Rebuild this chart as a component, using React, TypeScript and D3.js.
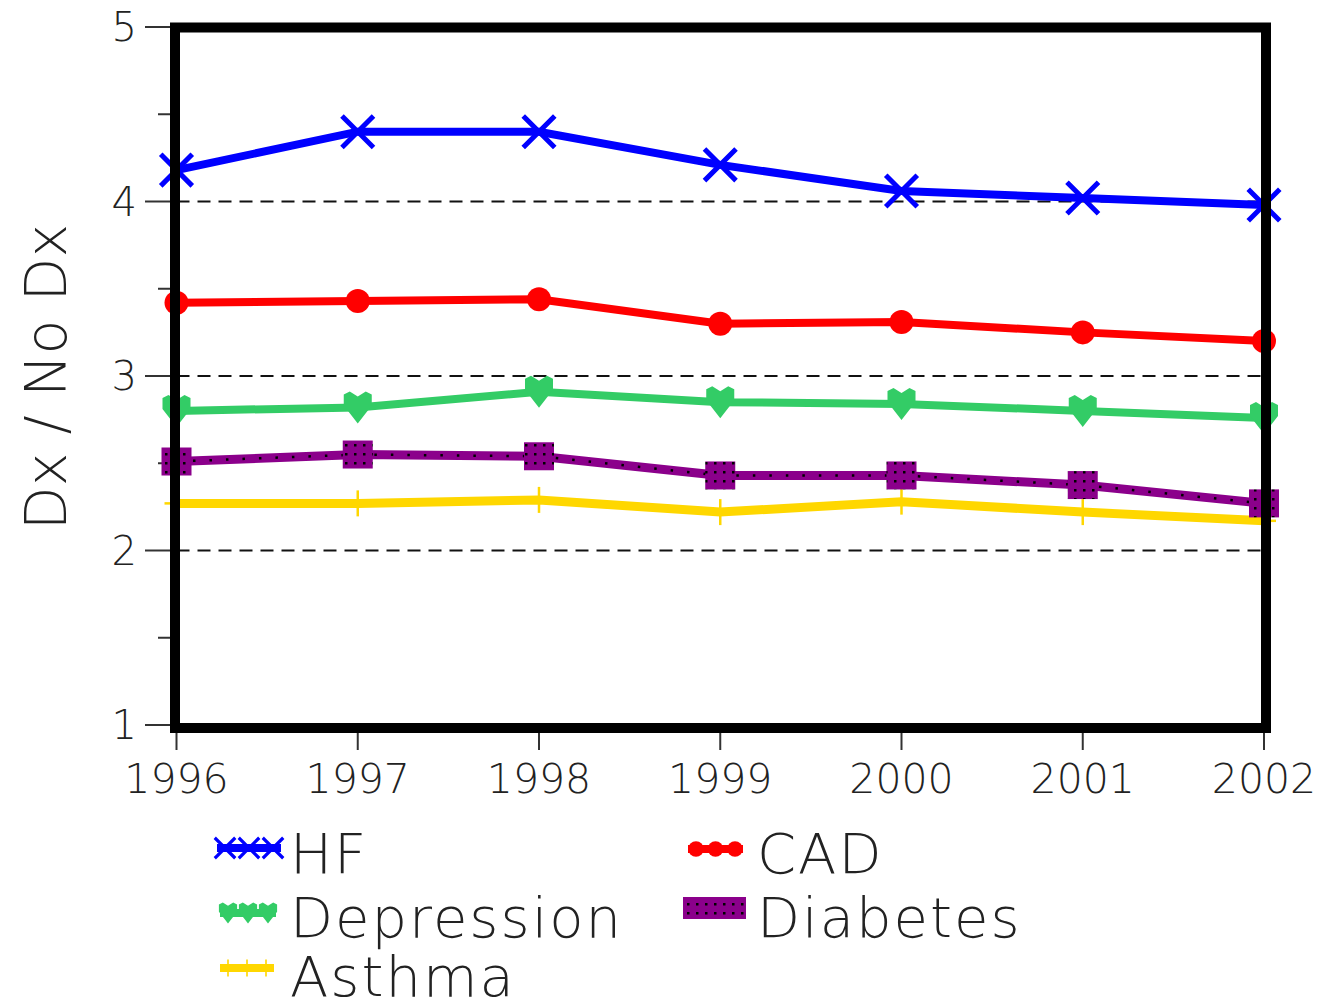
import React from "react";
import * as d3 from "d3";

const years = [1996, 1997, 1998, 1999, 2000, 2001, 2002];
const hf = [4.18, 4.4, 4.4, 4.21, 4.06, 4.02, 3.98];
const cad = [3.42, 3.43, 3.44, 3.3, 3.31, 3.25, 3.2];
const depression = [2.8, 2.82, 2.91, 2.85, 2.84, 2.8, 2.76];
const diabetes = [2.51, 2.55, 2.54, 2.43, 2.43, 2.375, 2.27];
const asthma = [2.27, 2.27, 2.29, 2.22, 2.28, 2.22, 2.17];
const yTicks = [1, 2, 3, 4, 5];
const yMinorTicks = [1.5, 2.5, 3.5, 4.5];
const gridValues = [2, 3, 4];

const FONT = "'DejaVu Sans', 'Liberation Sans', sans-serif";

const x = d3.scaleLinear().domain([1996, 2002]).range([176.5, 1264]);
const y = d3.scaleLinear().domain([1, 5]).range([725, 27]);

type Marker = "x" | "circle" | "heart" | "square" | "plus";

function MarkerShape({ kind, color, cx, cy }: { kind: Marker; color: string; cx: number; cy: number }) {
  if (kind === "x") {
    const s = 14;
    return (
      <g transform={`translate(${cx},${cy})`} stroke={color} strokeWidth={5} strokeLinecap="square">
        <line x1={-s} y1={-s} x2={s} y2={s} />
        <line x1={-s} y1={s} x2={s} y2={-s} />
      </g>
    );
  }
  if (kind === "circle") return <circle cx={cx} cy={cy} r={12} fill={color} />;
  if (kind === "heart")
    return (
      <path
        transform={`translate(${cx},${cy})`}
        d="M-14,-13 L-8,-16 L0,-11 L8,-16 L14,-13 L14,-2 L0,16 L-14,-2 Z"
        fill={color}
      />
    );
  if (kind === "square")
    return (
      <rect x={cx - 15} y={cy - 14} width={30} height={28} fill={color} stroke="none" />
    );
  return (
    <g transform={`translate(${cx},${cy})`} stroke={color} strokeWidth={2.5}>
      <line x1={0} y1={-13} x2={0} y2={13} />
      <line x1={-12} y1={0} x2={12} y2={0} />
    </g>
  );
}

const series: { name: string; values: number[]; color: string; marker: Marker; width: number }[] = [
  { name: "HF", values: hf, color: "#0000ff", marker: "x", width: 8 },
  { name: "CAD", values: cad, color: "#ff0000", marker: "circle", width: 8 },
  { name: "Depression", values: depression, color: "#33cc66", marker: "heart", width: 8 },
  { name: "Diabetes", values: diabetes, color: "#8b008b", marker: "square", width: 9 },
  { name: "Asthma", values: asthma, color: "#ffd700", marker: "plus", width: 9 },
];

const legendItems = [
  { name: "HF", sx: 217, ex: 281, sy: 848, tx: 290, ty: 873, idx: 0 },
  { name: "Depression", sx: 220, ex: 276, sy: 913, tx: 290, ty: 937, idx: 2 },
  { name: "Asthma", sx: 220, ex: 274, sy: 968, tx: 290, ty: 996, idx: 4 },
  { name: "CAD", sx: 688, ex: 743, sy: 849, tx: 757, ty: 873, idx: 1 },
  { name: "Diabetes", sx: 683, ex: 746, sy: 908, tx: 757, ty: 937, idx: 3 },
];

export default function App() {
  const line = d3
    .line<number>()
    .x((_, i) => x(years[i]))
    .y((d) => y(d));

  return (
    <svg
      width={1319}
      height={997}
      style={{ position: "absolute", left: 0, top: 0, background: "#fff" }}
      fontFamily={FONT}
    >
      <defs>
        <pattern id="dots" width="9" height="9" patternUnits="userSpaceOnUse">
          <rect width="9" height="9" fill="#8b008b" />
          <rect x="3" y="3" width="2.5" height="2.5" fill="#000" />
        </pattern>
      </defs>
      <rect width={1319} height={997} fill="#fff" />

      {/* grid lines */}
      {gridValues.map((g) => (
        <line
          key={g}
          x1={x(1996)}
          x2={x(2002)}
          y1={y(g)}
          y2={y(g)}
          stroke="#111"
          strokeWidth={2}
          strokeDasharray="13 8"
        />
      ))}

      {/* y ticks */}
      {yTicks.map((t) => (
        <g key={t}>
          <line x1={145} x2={172} y1={y(t)} y2={y(t)} stroke="#333" strokeWidth={2} />
          <text
            x={137}
            y={y(t) + 14}
            textAnchor="end"
            fontSize={40}
            fontWeight={200}
            fill="#222"
          >
            {t}
          </text>
        </g>
      ))}
      {yMinorTicks.map((t) => (
        <line key={t} x1={158} x2={172} y1={y(t)} y2={y(t)} stroke="#333" strokeWidth={2} />
      ))}

      {/* x ticks */}
      {years.map((yr) => (
        <g key={yr}>
          <line x1={x(yr)} x2={x(yr)} y1={731} y2={750} stroke="#333" strokeWidth={2} />
          <text
            x={x(yr)}
            y={793}
            textAnchor="middle"
            fontSize={41}
            fontWeight={200}
            fill="#222"
          >
            {yr}
          </text>
        </g>
      ))}

      {/* series */}
      {series
        .slice()
        .reverse()
        .map((s) => (
          <g key={s.name}>
            <path d={line(s.values) || ""} fill="none" stroke={s.color} strokeWidth={s.width} />
            {s.marker === "square" && (
              <path
                d={line(s.values) || ""}
                fill="none"
                stroke="#000"
                strokeWidth={2.5}
                strokeDasharray="2.5 14"
              />
            )}
            {s.values.map((v, i) => (
              <MarkerShape key={i} kind={s.marker} color={s.marker === "square" ? "url(#dots)" : s.color} cx={x(years[i])} cy={y(v)} />
            ))}
          </g>
        ))}

      {/* frame */}
      <rect x={175} y={27.5} width={1091} height={700.5} fill="none" stroke="#000" strokeWidth={10} />

      {/* y axis title */}
      <text
        transform={`translate(66,377) rotate(-90)`}
        textAnchor="middle"
        fontSize={57}
        fontWeight={200}
        fill="#222"
      >
        Dx / No Dx
      </text>

      {/* legend */}
      {legendItems.map((l) => {
        const s = series[l.idx];
        const mid = (l.sx + l.ex) / 2;
        const xs = [l.sx + 8, mid, l.ex - 8];
        return (
          <g key={l.name}>
            {s.marker === "square" ? (
              <rect x={l.sx} y={l.sy - 11} width={l.ex - l.sx} height={22} fill="url(#dots)" />
            ) : (
              <>
                <line x1={l.sx} x2={l.ex} y1={l.sy} y2={l.sy} stroke={s.color} strokeWidth={8} />
                {xs.map((px, i) => (
                  <g key={i} transform={`translate(${px},${l.sy}) scale(0.65)`}>
                    <MarkerShape kind={s.marker} color={s.color} cx={0} cy={0} />
                  </g>
                ))}
              </>
            )}
            <text x={l.tx} y={l.ty} fontSize={56} fontWeight={200} fill="#222" letterSpacing={2}>
              {l.name}
            </text>
          </g>
        );
      })}
    </svg>
  );
}
